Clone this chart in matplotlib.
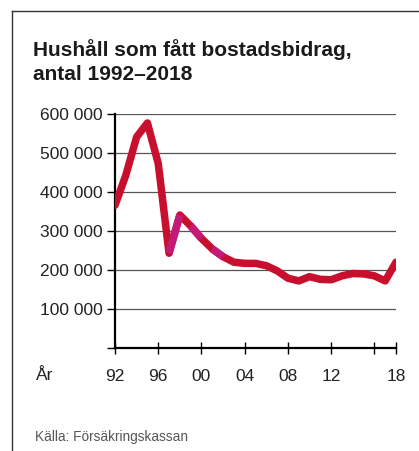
import numpy as np
import matplotlib.pyplot as plt
from matplotlib.lines import Line2D

plt.rcParams['font.family'] = ['Liberation Sans', 'DejaVu Sans']

# Hushåll med bostadsbidrag per år
years = list(range(1992, 2019))
households = [366000, 443000, 541000, 577000, 473000, 243000, 341000, 313000,
              281000, 254000, 234000, 220000, 217000, 217000, 211000, 198000,
              179000, 172000, 183000, 176000, 175000, 185000, 191000, 190000,
              185000, 172000, 220000]
# segment som ritas i magenta (startår)
magenta_from = [1997, 1999, 2001]

yticks = [0, 100000, 200000, 300000, 400000, 500000, 600000]
xticks = [1992, 1996, 2000, 2004, 2008, 2012, 2016, 2018]
xlabels = ['92', '96', '00', '04', '08', '12', '', '18']

RED = '#c8102e'
MAGENTA = '#c41a78'


def fmt(v):
    return '' if v == 0 else f"{v:,}".replace(',', ' ')


fig = plt.figure(figsize=(4.19, 4.51), dpi=100)
ax = fig.add_axes([115 / 419, 103 / 451, 281 / 419, 234 / 451])

for v in yticks[1:]:
    ax.axhline(v, color='#555555', lw=0.9, zorder=1)

ax.plot(years, households, color=RED, lw=5.4, solid_capstyle='round',
        solid_joinstyle='round', zorder=3)
for y0 in magenta_from:
    i = years.index(y0)
    ax.plot(years[i:i + 2], households[i:i + 2], color=MAGENTA, lw=5.4,
            solid_capstyle='butt', zorder=4)

ax.set_xlim(1992, 2018)
ax.set_ylim(0, 600000)
ax.set_yticks(yticks)
ax.set_yticklabels([fmt(v) for v in yticks], fontsize=12.5, color='#222222')
ax.set_xticks(xticks)
ax.set_xticklabels(xlabels, fontsize=12.5, color='#222222')
ax.tick_params(axis='x', direction='inout', length=8, width=1.0, pad=11)
ax.tick_params(axis='y', direction='out', length=6, width=1.0, pad=3)

for s in ('top', 'right'):
    ax.spines[s].set_visible(False)
for s in ('left', 'bottom'):
    ax.spines[s].set_linewidth(1.6)
    ax.spines[s].set_color('black')
ax.spines['bottom'].set_zorder(5)

fig.text(33 / 419, 1 - 50 / 451, 'Hushåll som fått bostadsbidrag,',
         fontsize=15, fontweight='bold', va='center', color='#1a1a1a')
fig.text(33 / 419, 1 - 75 / 451, 'antal 1992\u20132018',
         fontsize=15, fontweight='bold', va='center', color='#1a1a1a')
fig.text(36 / 419, 1 - 375 / 451, 'År', fontsize=12.5, va='center',
         color='#222222')
fig.text(35 / 419, 1 - 437 / 451, 'Källa: Försäkringskassan', fontsize=9.8,
         va='center', color='#555555')

# ram
fig.add_artist(Line2D([12 / 419, 12 / 419], [0, 1 - 11 / 451],
                      transform=fig.transFigure, color='#333333', lw=1))
fig.add_artist(Line2D([12 / 419, 1], [1 - 11 / 451, 1 - 11 / 451],
                      transform=fig.transFigure, color='#333333', lw=1))

fig.savefig('out.png', dpi=100)
